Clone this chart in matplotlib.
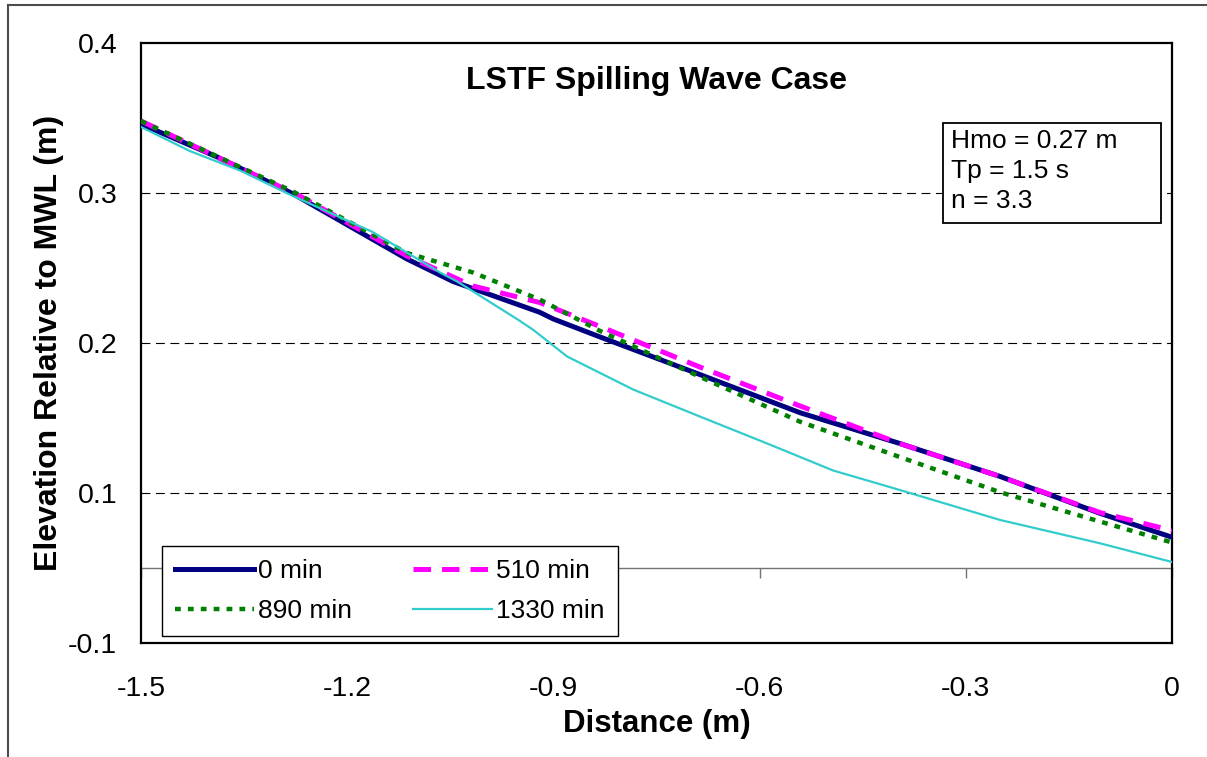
import matplotlib
matplotlib.use('Agg')
import matplotlib.pyplot as plt
from matplotlib.patches import Rectangle
from matplotlib.lines import Line2D

plt.rcParams['font.family'] = ['Liberation Sans', 'DejaVu Sans']

# profiles (distance m, elevation m)
x_0 = [-1.5, -1.389, -1.279, -1.113, -1.046, -0.92, -0.9, -0.832, -0.687, -0.541, -0.396, -0.25, -0.105, 0.0]
z_0 = [0.346, 0.324, 0.2995, 0.256, 0.241, 0.2205, 0.216, 0.204, 0.179, 0.1535, 0.133, 0.111, 0.0865, 0.0705]

x_510 = [-1.5, -1.269, -1.113, -1.017, -0.92, -0.832, -0.687, -0.541, -0.396, -0.25, -0.105, 0.0]
z_510 = [0.348, 0.298, 0.258, 0.238, 0.227, 0.211, 0.184, 0.158, 0.133, 0.111, 0.087, 0.075]

x_890 = [-1.5, -1.279, -1.113, -1.017, -0.92, -0.832, -0.687, -0.541, -0.396, -0.25, -0.105, 0.0]
z_890 = [0.348, 0.301, 0.26, 0.247, 0.229, 0.208, 0.1775, 0.1475, 0.124, 0.1005, 0.081, 0.067]

x_1330 = [-1.5, -1.429, -1.356, -1.279, -1.163, -1.065, -1.04, -0.953, -0.93, -0.88, -0.784,
          -0.687, -0.589, -0.493, -0.396, -0.25, -0.105, 0.0]
z_1330 = [0.344, 0.328, 0.315, 0.298, 0.274, 0.247, 0.241, 0.216, 0.209, 0.191, 0.169,
          0.151, 0.133, 0.115, 0.102, 0.082, 0.0665, 0.054]

x_ticks = [-1.5, -1.2, -0.9, -0.6, -0.3, 0.0]
x_ticklabels = ['-1.5', '-1.2', '-0.9', '-0.6', '-0.3', '0']
y_ticks = [0.0, 0.1, 0.2, 0.3, 0.4]
y_ticklabels = ['-0.1', '0.1', '0.2', '0.3', '0.4']

fig = plt.figure(figsize=(12.07, 7.57), dpi=100)
ax = fig.add_axes([0.1168, 0.1506, 0.8542, 0.7926])

# dashed grid
for g in [0.1, 0.2, 0.3]:
    ax.axhline(g, color='black', lw=0.8, linestyle=(0, (8, 5)), zorder=1)

l0, = ax.plot(x_0, z_0, color='#000080', lw=3.6, label='0 min', zorder=3)
l510, = ax.plot(x_510, z_510, color='#FF00FF', lw=3.6, linestyle=(0, (3.5, 2.2)), label='510 min', zorder=4)
l890, = ax.plot(x_890, z_890, color='#008000', lw=3.2, linestyle=(0, (1.3, 1.6)), dash_capstyle='butt',
                label='890 min', zorder=5)
l1330, = ax.plot(x_1330, z_1330, color='#33CCCC', lw=1.6, label='1330 min', zorder=6)

ax.set_xlim(-1.5, 0)
ax.set_ylim(0, 0.4)
ax.set_xticks(x_ticks)
ax.set_xticklabels(x_ticklabels)
ax.set_yticks(y_ticks)
ax.set_yticklabels(y_ticklabels)
ax.tick_params(axis='both', length=0, labelsize=20.5)
ax.tick_params(axis='x', pad=24)
ax.tick_params(axis='y', pad=17)
for s in ax.spines.values():
    s.set_linewidth(1.6)

# horizontal axis line crossing at 0.05 with its tick marks
sec = ax.secondary_xaxis(0.125)
sec.set_xticks(x_ticks)
sec.tick_params(length=7, width=1, color='0.45', labelbottom=False, labeltop=False, direction='out')
sec.spines['bottom'].set_color('0.45')
sec.spines['bottom'].set_linewidth(1)

ax.set_xlabel('Distance (m)', fontsize=22.5, fontweight='bold', labelpad=5)
ax.set_ylabel('Elevation Relative to MWL (m)', fontsize=23, fontweight='bold', labelpad=3)

ax.text(0.5, 0.937, 'LSTF Spilling Wave Case', transform=ax.transAxes, ha='center', va='center',
        fontsize=23, fontweight='bold')

# parameter box
ax.add_patch(Rectangle((0.778, 0.70), 0.2113, 0.1667, transform=ax.transAxes,
                       facecolor='white', edgecolor='black', lw=1.3, zorder=7))
ax.text(0.786, 0.857, 'Hmo = 0.27 m\nTp = 1.5 s\nn = 3.3', transform=ax.transAxes,
        ha='left', va='top', fontsize=19, linespacing=1.33, zorder=8)

leg = ax.legend([l0, l890, l510, l1330], ['0 min', '890 min', '510 min', '1330 min'],
                loc='lower left', bbox_to_anchor=(0.0204, 0.0117), borderaxespad=0, ncol=2,
                fontsize=19, handlelength=3.0, handletextpad=0.15, columnspacing=2.3,
                labelspacing=0.6, fancybox=False, framealpha=1, edgecolor='black', borderpad=0.5)
leg.get_frame().set_linewidth(1)

# outer chart border
fig.add_artist(Line2D([0.0066, 0.0066], [0, 0.9934], color='0.3', lw=1.5))
fig.add_artist(Line2D([0.0066, 1.0], [0.9934, 0.9934], color='0.3', lw=1.5))

plt.savefig('out.png', dpi=100)
